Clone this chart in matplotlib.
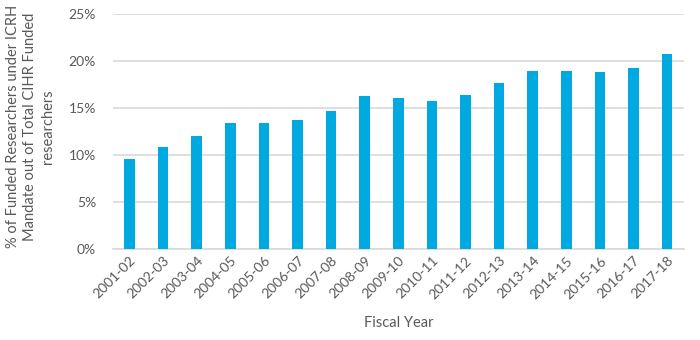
import matplotlib.pyplot as plt
from matplotlib.ticker import PercentFormatter

years = ["2001-02", "2002-03", "2003-04", "2004-05", "2005-06", "2006-07", "2007-08",
         "2008-09", "2009-10", "2010-11", "2011-12", "2012-13", "2013-14", "2014-15",
         "2015-16", "2016-17", "2017-18"]
share_pct = [9.6, 10.8, 12.0, 13.4, 13.4, 13.7, 14.7, 16.3, 16.1, 15.7, 16.35, 17.6,
             18.9, 18.9, 18.85, 19.2, 20.7]
y_ticks = [0, 5, 10, 15, 20, 25]

plt.rcParams.update({"font.family": ["Lato", "DejaVu Sans"], "font.size": 10})
text_col = "#595959"

fig = plt.figure(figsize=(7, 3.4), dpi=100)
ax = fig.add_axes([0.161, 0.268, 0.816, 0.691])
x = range(len(years))
ax.bar(x, share_pct, width=0.32, color="#00A9E0", zorder=3)

ax.set_xlim(-0.5, len(years) - 0.5)
ax.set_ylim(0, 25)
ax.set_yticks(y_ticks)
ax.yaxis.set_major_formatter(PercentFormatter(decimals=0))
ax.grid(axis="y", color="#D9D9D9", linewidth=1.2, zorder=0)
for side in ["top", "right", "left"]:
    ax.spines[side].set_visible(False)
ax.spines["bottom"].set_color("#D9D9D9")
ax.spines["bottom"].set_linewidth(1.2)
ax.tick_params(length=0, colors=text_col, labelsize=10)
ax.tick_params(axis="y", pad=12)
ax.tick_params(axis="x", pad=4)
ax.set_xticks(list(x))
ax.set_xticklabels(years, rotation=45, ha="right", rotation_mode="anchor")

ax.set_ylabel("% of Funded Researchers under ICRH\nMandate out of Total CIHR Funded\nresearchers",
              color=text_col, fontsize=10.5, linespacing=1.3, va="center")
ax.yaxis.set_label_coords(-0.144, 0.52)
ax.set_xlabel("Fiscal Year", color=text_col, fontsize=10.5, va="center")
ax.xaxis.set_label_coords(0.5, -0.315)

fig.savefig("out.png", dpi=100)
